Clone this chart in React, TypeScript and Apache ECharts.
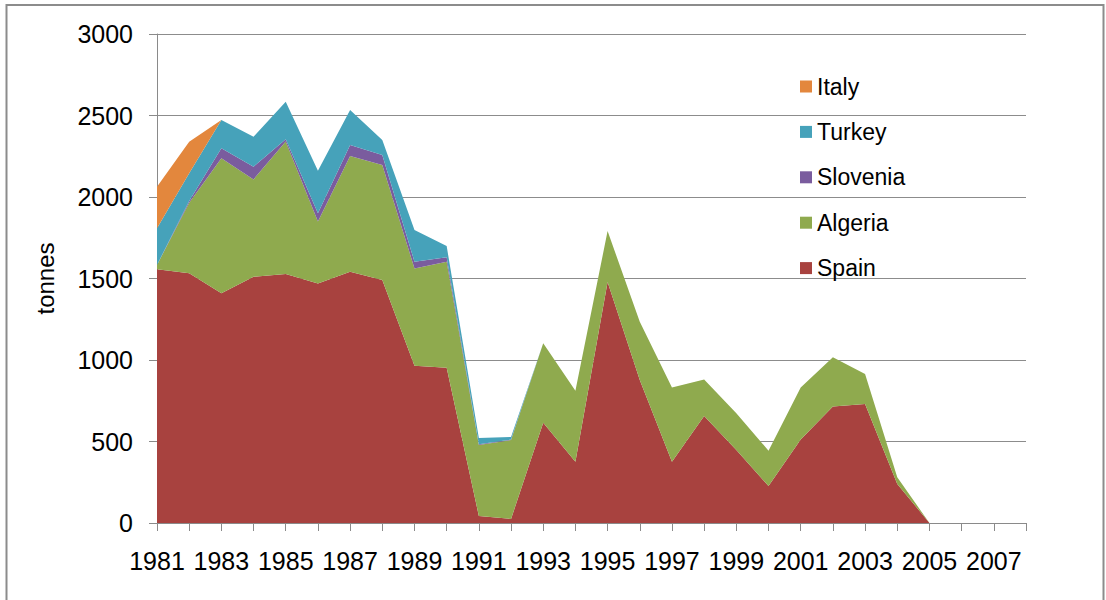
import React, { useEffect, useRef } from "react";
import * as echarts from "echarts";

const years = [
  "1981","1982","1983","1984","1985","1986","1987","1988","1989","1990",
  "1991","1992","1993","1994","1995","1996","1997","1998","1999","2000",
  "2001","2002","2003","2004","2005","2006","2007","2008",
];

const spain = [1556, 1532, 1409, 1511, 1528, 1470, 1542, 1491, 965, 953, 43, 25, 615, 376, 1478, 877, 376, 656, 448, 227, 512, 714, 730, 240, 0];
const algeria = [27, 433, 828, 597, 812, 379, 710, 705, 597, 650, 435, 484, 487, 436, 313, 358, 456, 225, 225, 217, 320, 303, 184, 40, 0];
const slovenia = [0, 10, 62, 78, 15, 51, 67, 62, 41, 27, 5, 3, 0, 0, 0, 0, 0, 0, 0, 0, 0, 0, 0, 0, 0];
const turkey = [225, 170, 173, 184, 229, 261, 215, 92, 195, 69, 38, 16, 0, 0, 0, 0, 0, 0, 0, 0, 0, 0, 0, 0, 0];
const italy = [255, 194, 0, 0, 0, 0, 0, 0, 0, 0, 0, 0, 0, 0, 0, 0, 0, 0, 0, 0, 0, 0, 0, 0, 0];

const legendOrder = ["Italy", "Turkey", "Slovenia", "Algeria", "Spain"];

const FONT = "Liberation Sans, Arial, sans-serif";

export default function App() {
  const ref = useRef<HTMLDivElement>(null);

  useEffect(() => {
    if (!ref.current) return;
    const chart = echarts.init(ref.current, undefined, { renderer: "svg" });

    const mk = (name: string, data: number[], color: string) => ({
      name,
      type: "line",
      stack: "total",
      data,
      symbol: "none",
      showSymbol: false,
      lineStyle: { width: 0 },
      areaStyle: { color, opacity: 1 },
      itemStyle: { color },
      emphasis: { disabled: true },
    });

    chart.setOption({
      animation: false,
      backgroundColor: "#ffffff",
      textStyle: { fontFamily: FONT },
      grid: { left: 157, right: 80, top: 34, bottom: 77, containLabel: false },
      graphic: [
        {
          type: "rect",
          shape: { x: 6.5, y: 5, width: 1097, height: 640 },
          style: { fill: "none", stroke: "#8c8c8c", lineWidth: 2 },
          silent: true,
        },
      ],
      legend: {
        data: legendOrder,
        orient: "vertical",
        left: 795,
        top: 70,
        itemWidth: 12,
        itemHeight: 12,
        itemGap: 22.4,
        icon: "rect",
        textStyle: { fontSize: 23, color: "#000", fontFamily: FONT, lineHeight: 23 },
        selectedMode: false,
      },
      xAxis: {
        type: "category",
        data: years,
        boundaryGap: false,
        axisLine: { show: true, lineStyle: { color: "#8a8a8a", width: 1 } },
        axisTick: { show: true, interval: 0, length: 8, lineStyle: { color: "#8a8a8a" } },
        axisLabel: { interval: 1, fontSize: 25, color: "#000", margin: 25, fontFamily: FONT },
        splitLine: { show: false },
      },
      yAxis: {
        type: "value",
        min: 0,
        max: 3000,
        interval: 500,
        name: "tonnes",
        nameLocation: "middle",
        nameGap: 100,
        nameRotate: 90,
        nameTextStyle: { fontSize: 24, color: "#000", fontFamily: FONT },
        axisLine: { show: true, lineStyle: { color: "#8a8a8a", width: 1 } },
        axisTick: { show: true, length: 8, lineStyle: { color: "#8a8a8a" } },
        axisLabel: {
          fontSize: 25,
          color: "#000",
          margin: 24,
          fontFamily: FONT,
          formatter: (v: number) => String(v),
        },
        splitLine: { show: true, lineStyle: { color: "#8c8c8c", width: 1 } },
      },
      series: [
        mk("Spain", spain, "#A8423F"),
        mk("Algeria", algeria, "#8FAA4E"),
        mk("Slovenia", slovenia, "#7A5C9E"),
        mk("Turkey", turkey, "#46A2BA"),
        mk("Italy", italy, "#E3873D"),
      ],
    });

    return () => chart.dispose();
  }, []);

  return (
    <div
      ref={ref}
      style={{ position: "fixed", left: 0, top: 0, width: 1106, height: 600 }}
    />
  );
}
